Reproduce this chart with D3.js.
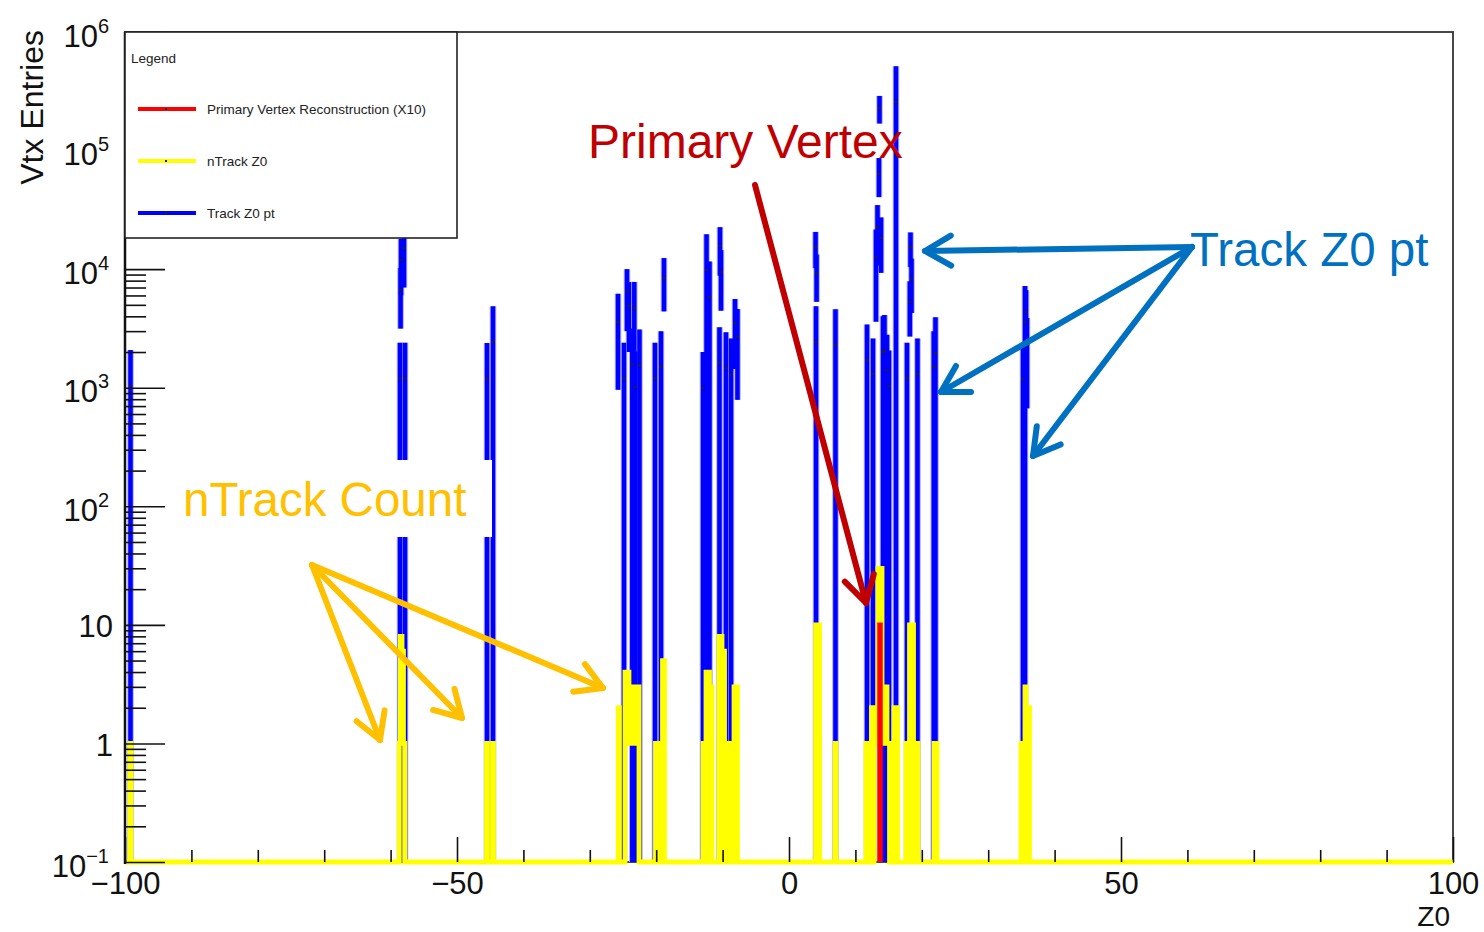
<!DOCTYPE html>
<html>
<head>
<meta charset="utf-8">
<script src="https://cdn.jsdelivr.net/npm/d3@7"></script>
<style>
  html, body { margin: 0; padding: 0; background: #fff; }
  svg { display: block; font-family: "Liberation Sans", Arial, sans-serif; }
</style>
</head>
<body>
<svg id="chart" width="1484" height="932"></svg>
<script>
// Track Z0 pt: [z0, bin content, bin error] for every filled bin
const trackZ0Pt = [
  [-99.17, 1040, 1040],
  [-58.58, 1200, 1200], [-58.50, 6700, 3550], [-58.43, 12000, 6000],
  [-57.98, 15000, 8000], [-57.83, 1200, 1200],
  [-45.48, 1190, 1190], [-44.58, 2430, 2430],
  [-25.75, 3580, 2620], [-24.85, 1200, 1200], [-24.40, 6500, 3500],
  [-24.10, 4900, 2900], [-23.60, 1580, 1580], [-23.30, 4700, 3100],
  [-23.15, 1010, 1010], [-22.52, 1550, 1550],
  [-20.18, 1200, 1200], [-19.28, 1500, 1500], [-18.83, 8400, 4000],
  [-12.95, 1000, 1000], [-12.42, 9840, 9840], [-11.97, 5800, 5800],
  [-10.47, 1620, 1620], [-10.39, 15700, 6900], [-10.24, 9460, 5000],
  [-9.49, 1470, 1470], [-8.73, 1300, 1300], [-8.13, 3520, 2080],
  [-7.76, 2700, 1910],
  [4.00, 15400, 5200], [4.07, 2430, 2430], [4.15, 9300, 4000],
  [7.00, 2300, 2300],
  [11.75, 1710, 1710], [12.65, 1300, 1300], [13.10, 12600, 9000],
  [13.33, 22700, 12000], [13.55, 63500, 23000], [13.63, 229000, 60000],
  [13.86, 18300, 9000], [14.16, 2000, 2000], [14.38, 2050, 2050],
  [14.76, 1400, 1400], [15.06, 1030, 1030],
  [16.11, 257000, 257000],
  [17.77, 1200, 1200], [18.20, 5300, 2600], [18.30, 15400, 5000],
  [18.45, 8270, 4000], [19.35, 1300, 1300],
  [21.80, 1500, 1500], [22.06, 1960, 1960],
  [35.24, 1180, 1180], [35.54, 3600, 3600], [35.70, 4350, 2300],
  [35.84, 2270, 1600]
];

// nTrack Z0: [low edge, high edge, count] for runs of adjacent bins
const nTrackZ0 = [
  [-99.25, -99.10, 1],
  [-58.69, -58.54, 1], [-58.54, -58.28, 8], [-58.28, -58.06, 6], [-58.06, -57.86, 1],
  [-45.56, -45.41, 1], [-44.65, -44.50, 1],
  [-25.71, -25.56, 2],
  [-24.70, -24.10, 4], [-24.10, -23.64, 1], [-23.64, -23.27, 3],
  [-23.27, -23.04, 1], [-23.04, -22.59, 3],
  [-20.11, -19.95, 1], [-19.35, -19.05, 1], [-19.05, -18.75, 5],
  [-12.95, -12.80, 1], [-12.50, -12.35, 4], [-12.12, -11.97, 4], [-11.75, -11.60, 3],
  [-10.54, -10.39, 8], [-10.24, -10.09, 8], [-9.86, -9.71, 6],
  [-9.49, -9.34, 1], [-9.04, -8.89, 1], [-8.28, -8.13, 3], [-7.91, -7.76, 3],
  [4.00, 4.60, 10],
  [6.93, 7.08, 1],
  [11.60, 11.75, 1], [11.97, 12.12, 1], [12.42, 12.73, 2],
  [12.80, 13.10, 2], [13.10, 13.40, 1], [13.40, 14.01, 30], [14.01, 14.46, 1],
  [14.46, 14.76, 3], [14.76, 15.14, 1],
  [15.81, 15.96, 2], [16.19, 16.34, 2],
  [17.62, 17.77, 1], [18.15, 18.75, 10], [19.28, 19.43, 1],
  [21.84, 21.99, 1], [22.14, 22.29, 1],
  [34.94, 35.09, 1], [35.54, 35.69, 3], [36.07, 36.22, 2]
];

// Primary Vertex Reconstruction (X10)
const primaryVertex = [[13.63, 13.78, 10]];

const yDecades = [0.1, 1, 10, 100, 1e3, 1e4, 1e5, 1e6];
const yTickBase = ["10", "1", "10", "10", "10", "10", "10", "10"];
const yTickExp = ["\u22121", "", "", "2", "3", "4", "5", "6"];
const xMajorTicks = [-100, -50, 0, 50, 100];
const xTickLabels = ["\u2212100", "\u221250", "0", "50", "100"];
const xMinorTicks = [-90, -80, -70, -60, -40, -30, -20, -10, 10, 20, 30, 40, 60, 70, 80, 90];

const legendEntries = [
  { label: "Primary Vertex Reconstruction (X10)", color: "#ff0000" },
  { label: "nTrack Z0", color: "#ffff00" },
  { label: "Track Z0 pt", color: "#0000ff" }
];

const frame = { left: 125, right: 1453, top: 32, bottom: 862 };

const svg = d3.select("#chart");

const x = d3.scaleLinear().domain([-100, 100]).range([frame.left, frame.right]);
const y = d3.scaleLog().domain([0.1, 1e6]).range([frame.bottom, frame.top]).clamp(true);
const yv = (v) => y(Math.max(v, 0.1));

svg.append("rect").attr("width", 1484).attr("height", 932).attr("fill", "#fff");

// frame goes under the histograms so the nTrack baseline covers its bottom edge
svg.append("rect")
  .attr("x", frame.left)
  .attr("y", frame.top)
  .attr("width", frame.right - frame.left)
  .attr("height", frame.bottom - frame.top)
  .attr("fill", "none")
  .attr("stroke", "#333")
  .attr("stroke-width", 1.8);

svg.append("defs").append("clipPath").attr("id", "frameClip")
  .append("rect")
  .attr("x", frame.left)
  .attr("y", frame.top)
  .attr("width", frame.right - frame.left)
  .attr("height", frame.bottom - frame.top + 5);

const plot = svg.append("g").attr("clip-path", "url(#frameClip)");

// error bars of the pt histogram, soft edge first then the core
const errBars = plot.append("g");
["#a9a9ff", "#0000ff"].forEach((col, i) => {
  errBars.append("g").selectAll("line")
    .data(trackZ0Pt)
    .join("line")
    .attr("x1", (d) => x(d[0]))
    .attr("x2", (d) => x(d[0]))
    .attr("y1", (d) => yv(d[1] - d[2]))
    .attr("y2", (d) => yv(d[1] + d[2]))
    .attr("stroke", col)
    .attr("stroke-width", i === 0 ? 6.5 : 4.5);
});

errBars.append("g").selectAll("rect")
  .data(trackZ0Pt)
  .join("rect")
  .attr("x", (d) => x(d[0]) - 1.5)
  .attr("y", (d) => yv(d[1]) - 1)
  .attr("width", 3)
  .attr("height", 2)
  .attr("fill", "#222");

// step outline of a histogram, zero bins sit on the frame bottom
function histPoints(runs, withBaseline) {
  const pts = withBaseline ? [[-100, 0]] : [];
  runs.forEach((r, i) => {
    const prev = runs[i - 1];
    const next = runs[i + 1];
    if (!prev || Math.abs(prev[1] - r[0]) > 1e-6) pts.push([r[0], 0]);
    pts.push([r[0], r[2]], [r[1], r[2]]);
    if (!next || Math.abs(next[0] - r[1]) > 1e-6) pts.push([r[1], 0]);
  });
  if (withBaseline) pts.push([100, 0]);
  return pts;
}

const histLine = d3.line().x((d) => x(d[0])).y((d) => yv(d[1]));

plot.append("path")
  .attr("d", histLine(histPoints(nTrackZ0, true)))
  .attr("fill", "none")
  .attr("stroke", "#ffff00")
  .attr("stroke-width", 4.8)
  .attr("stroke-linejoin", "miter");

plot.append("path")
  .attr("d", histLine(histPoints(primaryVertex, false)))
  .attr("fill", "none")
  .attr("stroke", "#ff0000")
  .attr("stroke-width", 4.5);

// axes, ticks point into the frame
function styleAxis(g) {
  g.select(".domain").remove();
  g.selectAll(".tick line").attr("stroke", "#111").attr("stroke-width", 1.6);
  g.selectAll("text")
    .attr("fill", "#111")
    .attr("font-family", "Liberation Sans, Arial, sans-serif")
    .attr("font-size", 31);
}

const yDecadeMinor = [];
yDecades.slice(0, -1).forEach((d) => {
  for (let k = 2; k <= 9; k++) yDecadeMinor.push(k * d);
});

svg.append("g")
  .attr("transform", `translate(${frame.left},0)`)
  .call(d3.axisLeft(y).tickValues(yDecadeMinor).tickSize(-21).tickFormat(""))
  .call(styleAxis);

const yAxisG = svg.append("g")
  .attr("transform", `translate(${frame.left},0)`)
  .call(d3.axisLeft(y).tickValues(yDecades).tickSize(-40).tickPadding(13)
    .tickFormat((d, i) => yTickBase[i]))
  .call(styleAxis);

yAxisG.selectAll(".tick text").each(function (d, i) {
  const t = d3.select(this);
  t.attr("dy", yTickExp[i] ? 14 : 12).attr("x", yTickExp[i] ? -16 : -12);
  if (yTickExp[i]) {
    t.append("tspan")
      .attr("dy", -14)
      .attr("font-size", 20)
      .text(yTickExp[i]);
  }
});

svg.append("g")
  .attr("transform", `translate(0,${frame.bottom})`)
  .call(d3.axisBottom(x).tickValues(xMinorTicks).tickSize(-12).tickFormat(""))
  .call(styleAxis);

svg.append("g")
  .attr("transform", `translate(0,${frame.bottom})`)
  .call(d3.axisBottom(x).tickValues(xMajorTicks).tickSize(-25).tickPadding(10)
    .tickFormat((d, i) => xTickLabels[i]))
  .call(styleAxis);

svg.append("line")
  .attr("x1", frame.left).attr("x2", frame.left)
  .attr("y1", frame.top).attr("y2", frame.bottom + 2)
  .attr("stroke", "#111")
  .attr("stroke-width", 2.5);

// axis titles
svg.append("text")
  .attr("transform", "translate(43,30) rotate(-90)")
  .attr("text-anchor", "end")
  .attr("font-size", 32)
  .attr("fill", "#111")
  .text("Vtx Entries");

svg.append("text")
  .attr("x", 1450)
  .attr("y", 926)
  .attr("text-anchor", "end")
  .attr("font-size", 28)
  .attr("fill", "#111")
  .text("Z0");

// legend box
const legend = svg.append("g");
legend.append("rect")
  .attr("x", frame.left)
  .attr("y", frame.top)
  .attr("width", 332)
  .attr("height", 206)
  .attr("fill", "#fff")
  .attr("stroke", "#222")
  .attr("stroke-width", 1.6);

legend.append("text")
  .attr("x", 131)
  .attr("y", 63)
  .attr("font-size", 13.5)
  .attr("fill", "#222")
  .text("Legend");

legendEntries.forEach((e, i) => {
  const ly = 109 + i * 52;
  legend.append("line")
    .attr("x1", 138).attr("x2", 196)
    .attr("y1", ly).attr("y2", ly)
    .attr("stroke", e.color)
    .attr("stroke-width", 4);
  legend.append("rect")
    .attr("x", 165).attr("y", ly - 1)
    .attr("width", 2).attr("height", 2)
    .attr("fill", "#222");
  legend.append("text")
    .attr("x", 207)
    .attr("y", ly + 5)
    .attr("font-size", 13.5)
    .attr("fill", "#222")
    .text(e.label);
});

// annotations
const notes = svg.append("g");

function arrow(g, x1, y1, x2, y2, color) {
  const ang = Math.atan2(y2 - y1, x2 - x1);
  const len = 30;
  const spread = Math.PI / 6;
  g.append("line")
    .attr("x1", x1).attr("y1", y1)
    .attr("x2", x2).attr("y2", y2)
    .attr("stroke", color)
    .attr("stroke-width", 6)
    .attr("stroke-linecap", "round");
  const arm = (a) => [x2 - len * Math.cos(a), y2 - len * Math.sin(a)];
  g.append("polyline")
    .attr("points", [arm(ang - spread), [x2, y2], arm(ang + spread)].map((p) => p.join(",")).join(" "))
    .attr("fill", "none")
    .attr("stroke", color)
    .attr("stroke-width", 6)
    .attr("stroke-linecap", "round")
    .attr("stroke-linejoin", "round");
}

notes.append("rect")
  .attr("x", 176).attr("y", 460)
  .attr("width", 316).attr("height", 77)
  .attr("fill", "#fff");

notes.append("text")
  .attr("x", 183).attr("y", 516)
  .attr("font-size", 47.5)
  .attr("fill", "#ffc000")
  .text("nTrack Count");

notes.append("text")
  .attr("x", 588).attr("y", 158)
  .attr("font-size", 48)
  .attr("fill", "#c00000")
  .text("Primary Vertex");

notes.append("text")
  .attr("x", 1190).attr("y", 266)
  .attr("font-size", 47.5)
  .attr("fill", "#0070c0")
  .text("Track Z0 pt");

arrow(notes, 755, 185, 866, 603, "#c00000");

arrow(notes, 1192, 247, 925, 251, "#0070c0");
arrow(notes, 1192, 247, 941, 392, "#0070c0");
arrow(notes, 1192, 247, 1033, 456, "#0070c0");

arrow(notes, 312, 565, 380, 740, "#ffc000");
arrow(notes, 312, 565, 462, 718, "#ffc000");
arrow(notes, 312, 565, 603, 688, "#ffc000");
</script>
</body>
</html>
